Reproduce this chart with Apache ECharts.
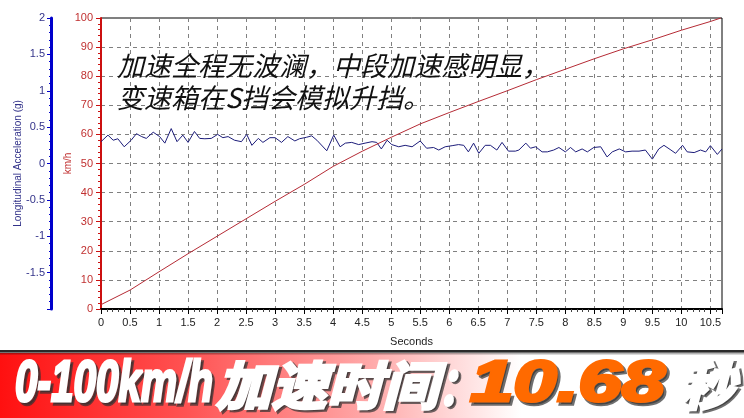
<!DOCTYPE html>
<html>
<head>
<meta charset="utf-8">
<script src="https://cdn.jsdelivr.net/npm/echarts@6/dist/echarts.min.js"></script>
<style>
html,body{margin:0;padding:0;background:#fff;}
#c{width:744px;height:418px;}
</style>
</head>
<body>
<div id="c"></div>
<script>
// ---- data ----
const accelTime = [0.00,0.12,0.21,0.29,0.40,0.52,0.61,0.70,0.78,0.90,1.01,1.10,1.21,1.31,1.41,1.50,1.61,1.70,1.79,1.90,2.01,2.10,2.19,2.30,2.42,2.51,2.60,2.71,2.79,2.91,3.00,3.11,3.22,3.34,3.42,3.54,3.63,3.72,3.89,4.01,4.12,4.21,4.32,4.44,4.55,4.67,4.75,4.83,4.93,5.01,5.13,5.24,5.36,5.50,5.61,5.73,5.82,5.93,6.05,6.16,6.25,6.33,6.42,6.51,6.62,6.71,6.82,6.91,7.02,7.14,7.20,7.32,7.40,7.49,7.60,7.69,7.80,7.89,8.00,8.09,8.18,8.29,8.38,8.49,8.61,8.72,8.81,8.93,9.04,9.15,9.27,9.38,9.50,9.61,9.70,9.82,9.90,10.02,10.10,10.22,10.33,10.42,10.50,10.62,10.70];
const accelG = [0.30,0.39,0.32,0.34,0.23,0.32,0.41,0.37,0.345,0.43,0.37,0.28,0.48,0.30,0.39,0.29,0.44,0.345,0.34,0.345,0.40,0.355,0.37,0.32,0.30,0.40,0.25,0.345,0.29,0.355,0.355,0.29,0.37,0.31,0.34,0.36,0.38,0.32,0.175,0.39,0.23,0.28,0.29,0.26,0.28,0.30,0.29,0.20,0.32,0.26,0.23,0.25,0.23,0.31,0.21,0.22,0.185,0.23,0.245,0.26,0.25,0.16,0.28,0.14,0.25,0.25,0.185,0.29,0.17,0.17,0.185,0.28,0.21,0.23,0.16,0.16,0.185,0.22,0.16,0.22,0.16,0.20,0.16,0.22,0.23,0.09,0.16,0.20,0.16,0.17,0.17,0.185,0.06,0.20,0.25,0.185,0.14,0.25,0.16,0.15,0.185,0.16,0.245,0.125,0.20];
const speedTime = [0,0.5,1.0,1.5,2.0,2.5,3.0,3.5,4.0,4.5,5.0,5.5,6.0,6.5,7.0,7.5,8.0,8.5,9.0,9.5,10.0,10.5,10.68];
const speedKmh = [1.5,6.5,12.8,19,25,31,37,42.8,49,54.2,59,63.6,67.5,71.3,75,78.8,82.4,86,89.4,92.5,95.8,98.8,100];
const noteLines = ['加速全程无波澜，中段加速感明显，', '变速箱在S挡会模拟升挡。'];
const bannerParts = ['0-100km/h', '加速时间', '：', '10.68', '秒'];
const xAxisName = 'Seconds';
const speedAxisName = 'km/h';
const accelAxisName = 'Longitudinal Acceleration (g)';

// ---- build ----
const accelData = accelTime.map((t, i) => [t, accelG[i]]);
const speedData = speedTime.map((t, i) => [t, speedKmh[i]]);

const mctx = document.createElement('canvas').getContext('2d');
function fitScale(text, font, target) {
  mctx.font = font;
  const w = mctx.measureText(text).width;
  return target / w;
}
const latinFont = "italic bold 58px 'Liberation Sans'";
const cjkFont = "italic bold 52px 'Noto Sans CJK SC'";
function bannerText(text, x, w, font, color, y) {
  const sx = fitScale(text, font, w);
  return [
    {
      type: 'text', x: x + 2.5, y: y + 2.5, scaleX: sx, z: 19,
      style: {
        text: text, font: font, fill: 'rgba(50,50,50,0.7)', textAlign: 'left', textVerticalAlign: 'middle',
        stroke: 'rgba(50,50,50,0.7)', lineWidth: 3.5
      }
    },
    {
      type: 'text', x: x, y: y, scaleX: sx, z: 20,
      style: {
        text: text, font: font, fill: color, textAlign: 'left', textVerticalAlign: 'middle',
        stroke: color, lineWidth: 3
      }
    }
  ];
}

const chart = echarts.init(document.getElementById('c'), null, {renderer: 'canvas'});
const option = {
  animation: false,
  backgroundColor: '#fff',
  grid: {left: 101, right: 22, top: 18, bottom: 109, show: true, borderColor: '#000', borderWidth: 1, containLabel: false},
  xAxis: {
    type: 'value', min: 0, max: 10.7, interval: 0.5,
    axisLine: {show: true, onZero: false, lineStyle: {color: '#000', width: 2}},
    axisTick: {show: true, length: 5, lineStyle: {color: '#000'}},
    minorTick: {show: true, splitNumber: 5, length: 3, lineStyle: {color: '#444'}},
    axisLabel: {color: '#222', fontSize: 11, fontFamily: 'Liberation Sans', margin: 8, showMaxLabel: false},
    splitLine: {show: true, lineStyle: {type: [4, 4], color: '#808080', width: 1}},
    name: xAxisName, nameLocation: 'middle', nameGap: 27, nameMoveOverlap: false,
    nameTextStyle: {color: '#222', fontSize: 11, fontFamily: 'Liberation Sans'}
  },
  yAxis: [
    {
      type: 'value', min: 0, max: 100, interval: 10, position: 'left',
      axisLine: {show: true, onZero: false, lineStyle: {color: '#cc1010', width: 2}},
      axisTick: {show: true, length: 5, lineStyle: {color: '#cc1010'}},
      minorTick: {show: true, splitNumber: 5, length: 3, lineStyle: {color: '#cc1010'}},
      axisLabel: {color: '#c03030', fontSize: 11, fontFamily: 'Liberation Sans', margin: 8},
      splitLine: {show: true, lineStyle: {type: [4, 4], color: '#808080', width: 1}},
      name: speedAxisName, nameLocation: 'middle', nameGap: 28, nameMoveOverlap: false,
      nameTextStyle: {color: '#c03030', fontSize: 10, fontFamily: 'Liberation Sans'}
    },
    {
      type: 'value', min: -2, max: 2, interval: 0.5, position: 'left', offset: 50,
      axisLine: {show: true, onZero: false, lineStyle: {color: '#0000cc', width: 3}},
      axisTick: {show: true, length: 4, lineStyle: {color: '#0000cc'}},
      minorTick: {show: true, splitNumber: 5, length: 2, lineStyle: {color: '#0000cc'}},
      axisLabel: {color: '#33338a', fontSize: 11, fontFamily: 'Liberation Sans', margin: 6, showMinLabel: false},
      splitLine: {show: false},
      name: accelAxisName, nameLocation: 'middle', nameGap: 28, nameMoveOverlap: false,
      nameTextStyle: {color: '#33338a', fontSize: 10, fontFamily: 'Liberation Sans'}
    }
  ],
  series: [
    {
      type: 'line', yAxisIndex: 1, data: accelData, showSymbol: false, z: 3,
      lineStyle: {color: '#1c1c7a', width: 1}
    },
    {
      type: 'line', yAxisIndex: 0, data: speedData, showSymbol: false, z: 4,
      lineStyle: {color: '#b52b35', width: 1}
    }
  ],
  graphic: [
    {
      type: 'text', x: 117, y: 66, z: 10,
      style: {
        text: noteLines[0], font: "italic 27px 'Noto Sans CJK SC'", fill: '#111',
        textAlign: 'left', textVerticalAlign: 'middle',
        shadowColor: 'rgba(255,255,170,1)', shadowBlur: 8
      }
    },
    {
      type: 'text', x: 117, y: 98, z: 10,
      style: {
        text: noteLines[1], font: "italic 27px 'Noto Sans CJK SC'", fill: '#111',
        textAlign: 'left', textVerticalAlign: 'middle',
        shadowColor: 'rgba(255,255,170,1)', shadowBlur: 8
      }
    },
    {
      type: 'rect', shape: {x: 0, y: 353, width: 744, height: 65}, z: 5,
      style: {
        fill: new echarts.graphic.LinearGradient(0, 0, 1, 0, [
          {offset: 0, color: '#ff1010'},
          {offset: 0.25, color: '#ff5252'},
          {offset: 0.5, color: '#ffaaaa'},
          {offset: 0.7, color: '#ffffff'},
          {offset: 1, color: '#ffffff'}
        ])
      }
    },
    {type: 'rect', shape: {x: 0, y: 350, width: 744, height: 2.5}, z: 6, style: {fill: '#2a2a2a'}},
    {type: 'rect', shape: {x: 0, y: 352.5, width: 744, height: 3}, z: 6,
      style: {fill: new echarts.graphic.LinearGradient(0, 0, 0, 1, [{offset: 0, color: 'rgba(0,0,0,0.45)'}, {offset: 1, color: 'rgba(0,0,0,0)'}])}}
  ].concat(
    bannerText(bannerParts[0], 15, 198, latinFont, '#ffffff', 385),
    bannerText(bannerParts[1], 216, 222, cjkFont, '#ffffff', 385),
    bannerText(bannerParts[2], 438, 40, cjkFont, '#ffffff', 385),
    bannerText(bannerParts[3], 470, 195, latinFont, '#ff6a00', 385),
    bannerText(bannerParts[4], 680, 55, cjkFont, '#ffffff', 385)
  )
};
chart.setOption(option);
</script>
</body>
</html>
